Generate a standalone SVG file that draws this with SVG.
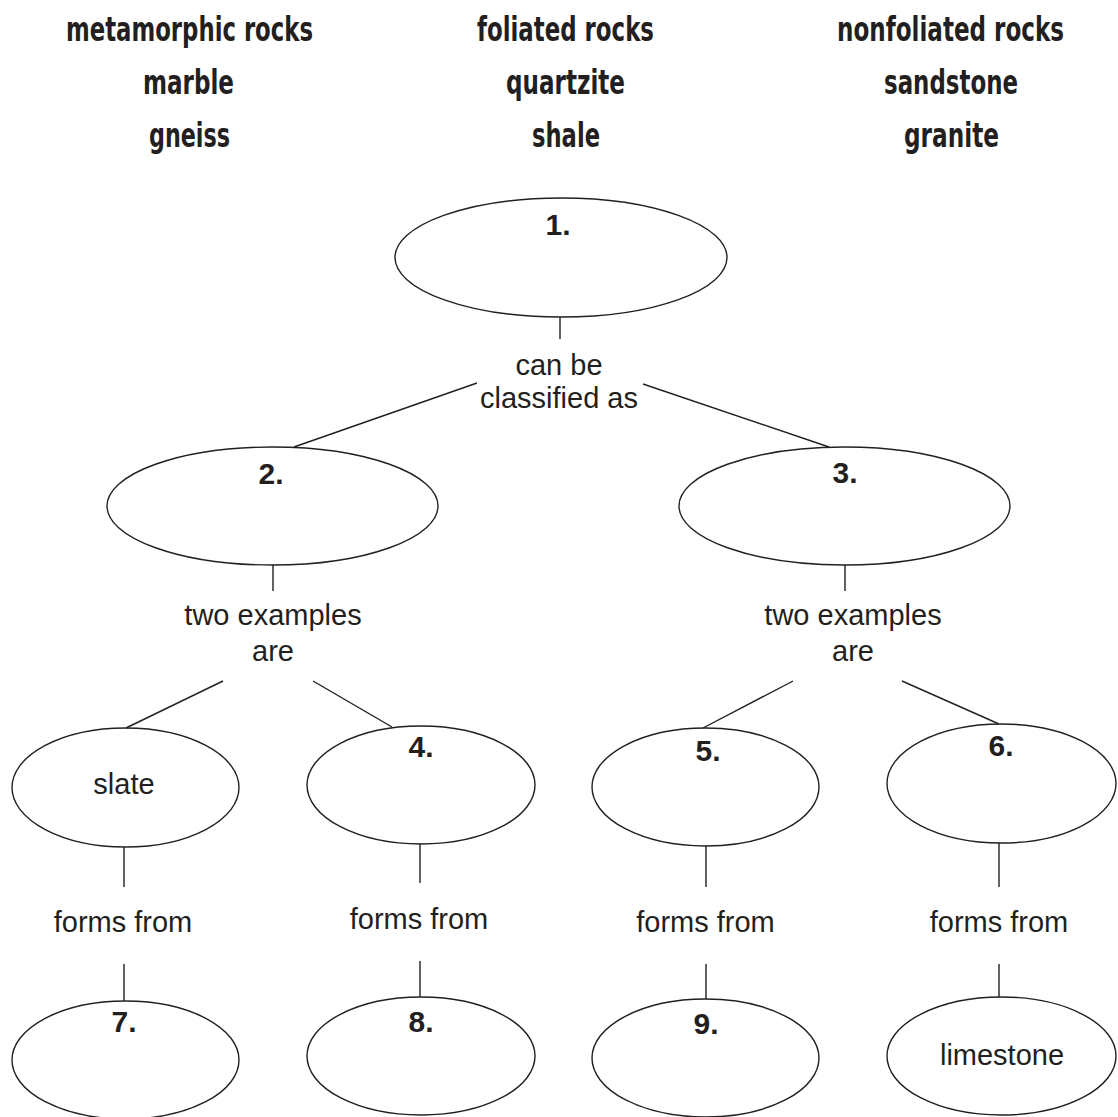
<svg xmlns="http://www.w3.org/2000/svg" width="1118" height="1117" viewBox="0 0 1118 1117">
<style>
.bg{fill:#ffffff}
.node ellipse{fill:none;stroke:#231f20;stroke-width:1.4}
.conn line{stroke:#231f20;stroke-width:1.4}
.t{font-family:"Liberation Sans",Arial,Helvetica,sans-serif;font-size:29px;fill:#231f20;text-anchor:middle}
.n{font-weight:bold;font-size:30px}
.h{font-family:"Liberation Sans Narrow","DejaVu Sans Condensed","Liberation Sans",sans-serif;font-weight:bold;font-size:33px;fill:#231f20;text-anchor:middle}
</style>
<rect class="bg" x="0" y="0" width="1118" height="1117"/>
<g id="word-bank">
<text class="h" x="189.5" y="41" textLength="247" lengthAdjust="spacingAndGlyphs">metamorphic rocks</text>
<text class="h" x="188.5" y="94" textLength="91" lengthAdjust="spacingAndGlyphs">marble</text>
<text class="h" x="189.5" y="147" textLength="81" lengthAdjust="spacingAndGlyphs">gneiss</text>
<text class="h" x="565.5" y="41" textLength="177" lengthAdjust="spacingAndGlyphs">foliated rocks</text>
<text class="h" x="565.5" y="94" textLength="119" lengthAdjust="spacingAndGlyphs">quartzite</text>
<text class="h" x="566" y="147" textLength="68" lengthAdjust="spacingAndGlyphs">shale</text>
<text class="h" x="950.5" y="41" textLength="227" lengthAdjust="spacingAndGlyphs">nonfoliated rocks</text>
<text class="h" x="951" y="94" textLength="134" lengthAdjust="spacingAndGlyphs">sandstone</text>
<text class="h" x="951.5" y="147" textLength="95" lengthAdjust="spacingAndGlyphs">granite</text>
</g>
<g id="connectors" class="conn">
<line x1="560" y1="317" x2="560" y2="339"/>
<line x1="477" y1="383" x2="294" y2="447"/>
<line x1="643" y1="384" x2="829" y2="447"/>
<line x1="273" y1="565" x2="273" y2="591"/>
<line x1="845" y1="565" x2="845" y2="591"/>
<line x1="223" y1="681" x2="126" y2="728"/>
<line x1="313" y1="681" x2="392" y2="727"/>
<line x1="793" y1="681" x2="703" y2="728"/>
<line x1="902" y1="681" x2="999" y2="724"/>
<line x1="124" y1="847" x2="124" y2="887"/>
<line x1="124" y1="964" x2="124" y2="1001"/>
<line x1="420" y1="844" x2="420" y2="883"/>
<line x1="420" y1="961" x2="420" y2="997"/>
<line x1="706" y1="846" x2="706" y2="887"/>
<line x1="706" y1="964" x2="706" y2="999"/>
<line x1="999" y1="843" x2="999" y2="887"/>
<line x1="999" y1="964" x2="999" y2="997"/>
</g>
<g id="linking-words">
<text class="t" x="559" y="375">can be</text>
<text class="t" x="559" y="408">classified as</text>
<text class="t" x="273" y="625">two examples</text>
<text class="t" x="273" y="661">are</text>
<text class="t" x="853" y="625">two examples</text>
<text class="t" x="853" y="661">are</text>
<text class="t" x="123" y="932">forms from</text>
<text class="t" x="419" y="929">forms from</text>
<text class="t" x="705.5" y="932">forms from</text>
<text class="t" x="999" y="932">forms from</text>
</g>
<g id="node-1" class="node"><ellipse cx="561" cy="257.5" rx="166" ry="59.5"/><text class="t n" x="558" y="235">1.</text></g>
<g id="node-2" class="node"><ellipse cx="272.5" cy="506" rx="165.5" ry="59"/><text class="t n" x="271" y="484">2.</text></g>
<g id="node-3" class="node"><ellipse cx="844.5" cy="506" rx="165.5" ry="59"/><text class="t n" x="845" y="483">3.</text></g>
<g id="node-slate" class="node"><ellipse cx="125.5" cy="787.5" rx="113.5" ry="59.5"/><text class="t" x="124" y="794">slate</text></g>
<g id="node-4" class="node"><ellipse cx="421" cy="785" rx="114" ry="59"/><text class="t n" x="421" y="757">4.</text></g>
<g id="node-5" class="node"><ellipse cx="705.5" cy="787" rx="113.5" ry="59"/><text class="t n" x="708" y="761">5.</text></g>
<g id="node-6" class="node"><ellipse cx="1001.5" cy="783.5" rx="114.5" ry="59.5"/><text class="t n" x="1001" y="756">6.</text></g>
<g id="node-7" class="node"><ellipse cx="125.5" cy="1060" rx="113.5" ry="59"/><text class="t n" x="124" y="1032">7.</text></g>
<g id="node-8" class="node"><ellipse cx="421" cy="1056" rx="114" ry="59"/><text class="t n" x="421" y="1032">8.</text></g>
<g id="node-9" class="node"><ellipse cx="705.5" cy="1058" rx="113.5" ry="59"/><text class="t n" x="706" y="1034">9.</text></g>
<g id="node-limestone" class="node"><ellipse cx="1001.5" cy="1056" rx="114.5" ry="59"/><text class="t" x="1002" y="1065">limestone</text></g>
</svg>
